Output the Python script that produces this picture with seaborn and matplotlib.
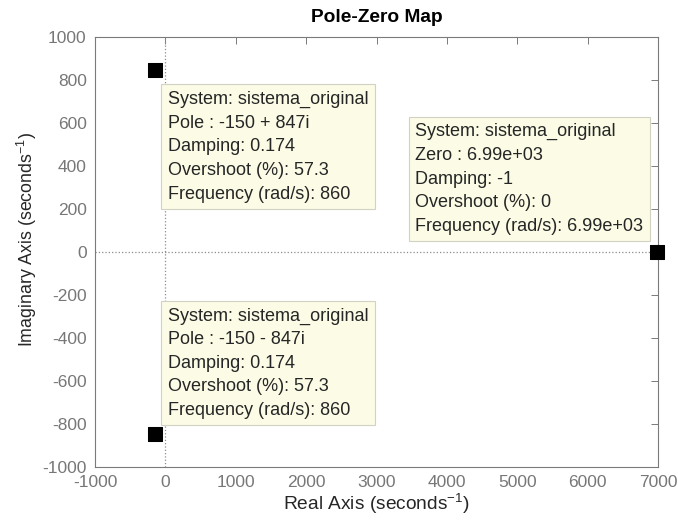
import matplotlib.pyplot as plt
import seaborn as sns
import pandas as pd

# pole/zero data
kinds = ['Pole', 'Pole', 'Zero']
real_parts = [-150, -150, 6990]
imag_parts = [847, -847, 0]

tip_texts = [
    "System: sistema_original\nPole : -150 + 847i\nDamping: 0.174\nOvershoot (%): 57.3\nFrequency (rad/s): 860",
    "System: sistema_original\nPole : -150 - 847i\nDamping: 0.174\nOvershoot (%): 57.3\nFrequency (rad/s): 860",
    "System: sistema_original\nZero : 6.99e+03\nDamping: -1\nOvershoot (%): 0\nFrequency (rad/s): 6.99e+03",
]

x_ticks = [-1000, 0, 1000, 2000, 3000, 4000, 5000, 6000, 7000]
y_ticks = [-1000, -800, -600, -400, -200, 0, 200, 400, 600, 800, 1000]

sns.set_style("white")
plt.rcParams['font.family'] = ['Liberation Sans', 'DejaVu Sans']
plt.rcParams['mathtext.default'] = 'regular'
plt.rcParams['axes.unicode_minus'] = False

df = pd.DataFrame({'kind': kinds, 're': real_parts, 'im': imag_parts})

fig = plt.figure(figsize=(6.78, 5.28), dpi=100)
ax = fig.add_axes([95 / 678, 1 - 467 / 528, 563 / 678, 430 / 528])

ax.axhline(0, color='#8c8c8c', linestyle=':', linewidth=0.9, zorder=1)
ax.axvline(0, color='#8c8c8c', linestyle=':', linewidth=0.9, zorder=1)

sns.scatterplot(data=df, x='re', y='im', marker='s', s=90, color='black',
                edgecolor='black', ax=ax, zorder=5, clip_on=False, legend=False)

ax.set_xlim(-1000, 7000)
ax.set_ylim(-1000, 1000)
ax.set_xticks(x_ticks)
ax.set_yticks(y_ticks)

text_col = '#262626'
ax.tick_params(direction='in', top=True, right=True, length=5, width=0.7,
               colors='#7a7a7a', labelcolor='#777777', labelsize=12.5, pad=6)
for sp in ax.spines.values():
    sp.set_color('#7a7a7a')
    sp.set_linewidth(0.8)

ax.set_xlabel('Real Axis (seconds$^{-1}$)', fontsize=13.75, color=text_col)
ax.set_ylabel('Imaginary Axis (seconds$^{-1}$)', fontsize=12.8, color=text_col)
ax.xaxis.set_label_coords(0.5, -0.058)
ax.yaxis.set_label_coords(-0.1, 0.53)
ax.set_title('Pole-Zero Map', fontsize=13.75, fontweight='bold', color='black', pad=11)

# data tip boxes, offsets in pixels from their marker
box = dict(boxstyle='square,pad=0.35', facecolor='#fbfbe6', edgecolor='#d2d2c4', linewidth=0.8)
offsets = [(13, -21), (13, 15), (-14, 17)]
aligns = [('left', 'top'), ('left', 'bottom'), ('right', 'bottom')]
for i in range(3):
    ax.annotate(tip_texts[i], xy=(real_parts[i], imag_parts[i]), xytext=offsets[i],
                textcoords='offset pixels', ha=aligns[i][0], va=aligns[i][1],
                multialignment='left', fontsize=13, color=text_col,
                linespacing=1.51, bbox=box, zorder=6)

plt.savefig('out.png', dpi=100)
plt.close()
